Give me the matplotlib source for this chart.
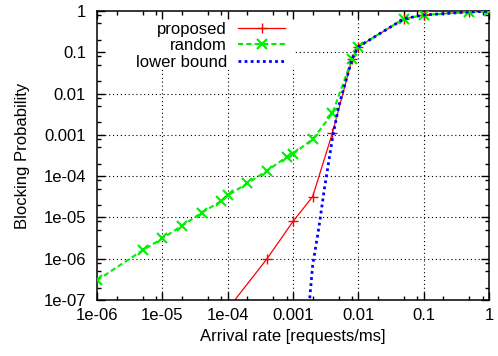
import matplotlib
matplotlib.use("Agg")
import matplotlib.pyplot as plt
from matplotlib.ticker import FixedLocator, FixedFormatter, LogLocator, NullFormatter
from matplotlib.patches import Rectangle

plt.rcParams['font.family'] = ['Liberation Sans', 'DejaVu Sans']
plt.rcParams['font.size'] = 12

# data
rate_random = [1e-6, 5e-6, 1e-5, 2e-5, 4e-5, 8e-5, 1e-4, 2e-4, 4e-4, 8e-4,
               1e-3, 2e-3, 4e-3, 8e-3, 1e-2, 5e-2, 0.1, 0.5, 1]
block_random = [3.0e-7, 1.6e-6, 3.1e-6, 6.3e-6, 1.3e-5, 2.5e-5, 3.4e-5, 6.7e-5,
                1.35e-4, 2.9e-4, 3.5e-4, 7.8e-4, 3.3e-3, 0.069, 0.136, 0.65,
                0.8, 0.95, 0.98]

rate_proposed = [1e-4, 4e-4, 1e-3, 2e-3, 4e-3, 8e-3, 1e-2, 5e-2, 0.1, 0.5, 1]
block_proposed = [6e-8, 1.0e-6, 8e-6, 3.2e-5, 1.1e-3, 0.069, 0.136, 0.65,
                  0.8, 0.95, 0.98]

rate_bound = [1.7e-3, 2e-3, 2.5e-3, 3e-3, 3.5e-3, 4e-3, 5e-3, 6e-3, 8e-3,
              1e-2, 5e-2, 0.1, 0.5, 1]
block_bound = [4e-8, 7e-7, 6e-6, 4.6e-5, 2.1e-4, 8e-4, 4.9e-3, 0.0135, 0.069,
               0.136, 0.65, 0.8, 0.95, 0.98]

xticks = [1e-6, 1e-5, 1e-4, 1e-3, 1e-2, 0.1, 1]
xticklabels = ['1e-06', '1e-05', '1e-04', '0.001', '0.01', '0.1', '1']
yticks = [1e-7, 1e-6, 1e-5, 1e-4, 1e-3, 1e-2, 0.1, 1]
yticklabels = ['1e-07', '1e-06', '1e-05', '1e-04', '0.001', '0.01', '0.1', '1']

fig = plt.figure(figsize=(4.98, 3.56), dpi=100)
ax = fig.add_axes([0.1948, 0.1573, 0.7872, 0.8118])

ax.set_xscale('log')
ax.set_yscale('log')
ax.set_xlim(1e-6, 1)
ax.set_ylim(1e-7, 1)

ax.plot(rate_proposed, block_proposed, color='#ff0000', lw=0.9,
        marker='+', ms=7, mew=1.0, label='proposed', zorder=2)
ax.plot(rate_random, block_random, color='#00ee00', lw=1.5,
        ls=(0, (2.5, 1.5)), marker='x', ms=6.5, mew=1.5, label='random', zorder=3)
ax.plot(rate_bound, block_bound, color='#0000ff', lw=2.0,
        ls=(0, (1, 1.2)), label='lower bound', zorder=4)

# dotted grid at major ticks, drawn under the key
for v in xticks[1:-1]:
    ax.axvline(v, color='black', lw=0.8, ls=(0, (1, 2.5)), zorder=1)
for v in yticks[1:-1]:
    ax.axhline(v, color='black', lw=0.8, ls=(0, (1, 2.5)), zorder=1)
ax.add_patch(Rectangle((0, 0.803), 0.505, 0.197, transform=ax.transAxes,
                       facecolor='white', edgecolor='none', zorder=1.2))

ax.xaxis.set_major_locator(FixedLocator(xticks))
ax.xaxis.set_major_formatter(FixedFormatter(xticklabels))
ax.yaxis.set_major_locator(FixedLocator(yticks))
ax.yaxis.set_major_formatter(FixedFormatter(yticklabels))
ax.xaxis.set_minor_locator(LogLocator(base=10, subs=[2, 5, 8], numticks=20))
ax.yaxis.set_minor_locator(LogLocator(base=10, subs=[2, 5, 8], numticks=20))
ax.xaxis.set_minor_formatter(NullFormatter())
ax.yaxis.set_minor_formatter(NullFormatter())

ax.tick_params(which='both', direction='in', top=True, right=True, width=1)
ax.tick_params(which='major', length=6)
ax.tick_params(which='minor', length=3)
ax.tick_params(axis='x', which='major', pad=6)
ax.tick_params(axis='y', which='major', pad=8)
for s in ax.spines.values():
    s.set_linewidth(1.1)

ax.set_xlabel('Arrival rate [requests/ms]', labelpad=4)
ax.set_ylabel('Blocking Probability', labelpad=10)

# key: labels right-aligned, line samples on the right
ax.legend(loc='upper right', bbox_to_anchor=(0.4796, 0.963),
          frameon=False, borderpad=0, borderaxespad=0,
          handlelength=2.82, handletextpad=0.66, labelspacing=0.09,
          markerfirst=False)

fig.savefig('out.png', dpi=100)
